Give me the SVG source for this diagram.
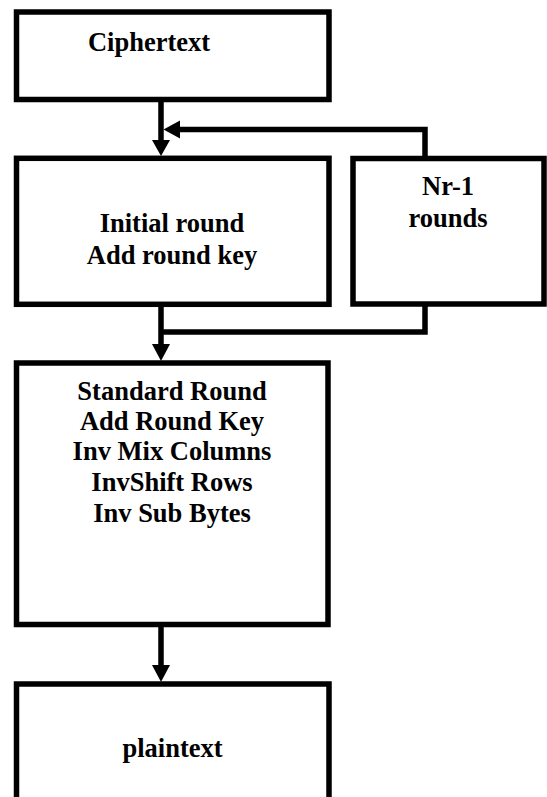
<svg xmlns="http://www.w3.org/2000/svg" width="547" height="797" viewBox="0 0 547 797">
<style>
.box{fill:#fff;stroke:#000;stroke-width:5.5}
.t{font-family:"Liberation Serif","Times New Roman",serif;font-weight:bold;font-size:26.5px;fill:#000;text-anchor:middle}
.c{fill:none;stroke:#000;stroke-width:5.5}
.h{fill:#000}
</style>
<rect width="547" height="797" fill="#fff"/>
<g id="ciphertext">
<rect class="box" x="16.5" y="12" width="312.5" height="87.5"/>
<text class="t" x="149" y="51">Ciphertext</text>
</g>
<g id="initial">
<rect class="box" x="16.5" y="158.3" width="312.5" height="146"/>
<text class="t" x="172" y="232">Initial round</text>
<text class="t" x="172" y="264">Add round key</text>
</g>
<g id="nr">
<rect class="box" x="353" y="158.5" width="191" height="145.5"/>
<text class="t" x="448" y="195">Nr-1</text>
<text class="t" x="448" y="227">rounds</text>
</g>
<g id="standard">
<rect class="box" x="16.5" y="363" width="311.5" height="261.5"/>
<text class="t" x="172" y="400">Standard Round</text>
<text class="t" x="172" y="430">Add Round Key</text>
<text class="t" x="172" y="460">Inv Mix Columns</text>
<text class="t" x="172" y="491">InvShift Rows</text>
<text class="t" x="172" y="522">Inv Sub Bytes</text>
</g>
<g id="plaintext">
<rect class="box" x="16.5" y="684" width="312.5" height="130"/>
<text class="t" x="172.5" y="757">plaintext</text>
</g>
<g id="connectors">
<path class="c" d="M161 102V142"/>
<polygon class="h" points="152,140 170,140 161,156"/>
<path class="c" d="M425 158V129.5H178"/>
<polygon class="h" points="180,120.5 180,138.5 163.5,129.5"/>
<path class="c" d="M161 307V346"/>
<polygon class="h" points="152,344 170,344 161,361"/>
<path class="c" d="M425 306V332H161"/>
<path class="c" d="M161 627V667"/>
<polygon class="h" points="152,665 170,665 161,682"/>
</g>
</svg>
